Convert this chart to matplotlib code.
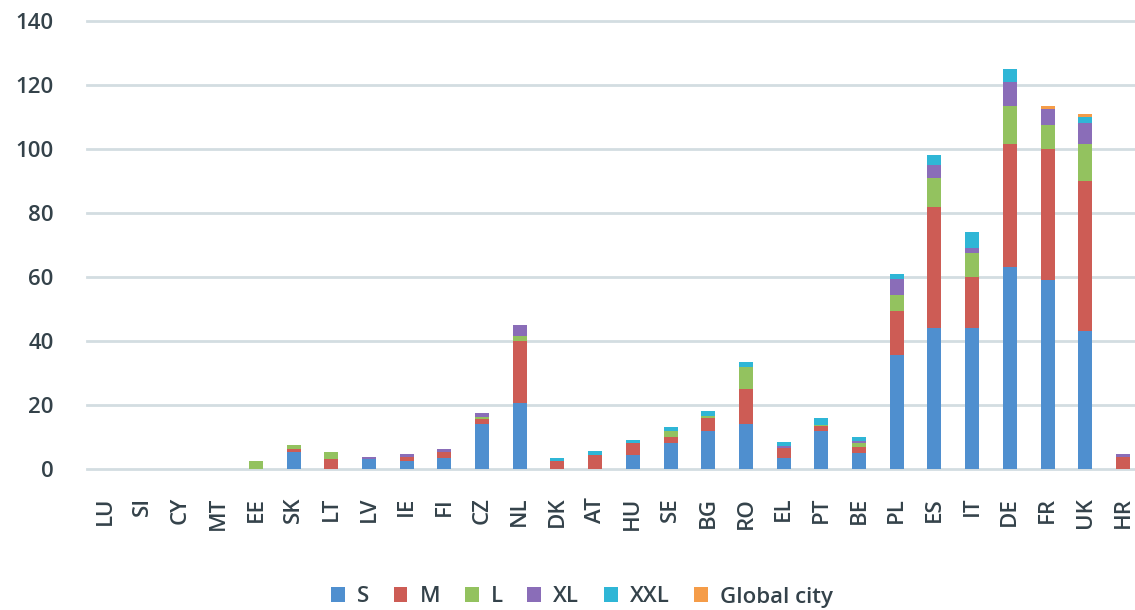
import matplotlib
matplotlib.use("Agg")
import matplotlib.pyplot as plt
import numpy as np

countries = ["LU", "SI", "CY", "MT", "EE", "SK", "LT", "LV", "IE", "FI", "CZ", "NL",
             "DK", "AT", "HU", "SE", "BG", "RO", "EL", "PT", "BE", "PL", "ES", "IT",
             "DE", "FR", "UK", "HR"]

s_vals   = [0, 0, 0, 0, 0,   5.2, 0,   3.0, 2.6, 3.4, 14.0, 20.5,
            0,   0,   4.5, 8.0, 12.0, 14.0, 3.3, 12.0, 5.0, 35.5, 44.0, 44.0,
            63.0, 59.0, 43.0, 0]
m_vals   = [0, 0, 0, 0, 0,   1.2, 3.2, 0,   1.0, 1.8, 1.7, 19.5,
            2.5, 4.5, 3.5, 2.0, 4.0, 11.0, 3.3, 1.3, 2.0, 14.0, 38.0, 16.0,
            38.5, 41.0, 47.0, 3.6]
l_vals   = [0, 0, 0, 0, 2.6, 1.0, 2.2, 0,   0,   0,   0.6, 1.5,
            0,   0,   0,   2.0, 0.5, 7.0, 0,   0.5, 1.0, 5.0, 9.0, 7.5,
            12.0, 7.5, 11.5, 0]
xl_vals  = [0, 0, 0, 0, 0,   0,   0,   0.6, 1.0, 1.2, 1.2, 3.5,
            0,   0,   0,   0,   0,   0,   0.5, 0,   0.7, 5.0, 4.0, 1.5,
            7.5, 5.0, 6.5, 1.0]
xxl_vals = [0, 0, 0, 0, 0,   0,   0,   0,   0,   0,   0,   0,
            1.0, 1.0, 1.0, 1.0, 1.5, 1.5, 1.2, 2.0, 1.3, 1.5, 3.0, 5.0,
            4.0, 0,   2.0, 0]
gc_vals  = [0, 0, 0, 0, 0,   0,   0,   0,   0,   0,   0,   0,
            0,   0,   0,   0,   0,   0,   0,   0,   0,   0,   0,   0,
            0,   1.0, 1.0, 0]

series_names = ["S", "M", "L", "XL", "XXL", "Global city"]
series_vals = [s_vals, m_vals, l_vals, xl_vals, xxl_vals, gc_vals]
colors = ["#4f8fcf", "#cd5c55", "#93c25f", "#8a6db8", "#2fb6d6", "#f59c48"]

plt.rcParams["font.family"] = ["Open Sans", "DejaVu Sans"]
plt.rcParams["font.weight"] = "semibold"
text_color = "#34424a"

fig = plt.figure(figsize=(11.35, 6.10), dpi=100)
ax = fig.add_axes([87 / 1135, 1 - 469 / 610, 1048 / 1135, 448 / 610])

x = np.arange(len(countries))
bottom = np.zeros(len(countries))
for name, vals, col in zip(series_names, series_vals, colors):
    v = np.array(vals, dtype=float)
    ax.bar(x, v, width=0.37, bottom=bottom, color=col, label=name, zorder=3)
    bottom += v

ax.set_xlim(-0.48, 27.32)
ax.set_ylim(0, 140)
ax.set_yticks(np.arange(0, 141, 20))
ax.yaxis.grid(True, color="#d3dde1", linewidth=2.0, zorder=0)
for gl in ax.get_ygridlines():
    gl.set_clip_on(False)
ax.set_axisbelow(True)

for sp in ax.spines.values():
    sp.set_visible(False)

ax.tick_params(axis="y", length=0, pad=24, labelsize=16, labelcolor=text_color)
ax.tick_params(axis="x", length=0, pad=20, labelsize=16, labelcolor=text_color)
ax.set_xticks(x)
ax.set_xticklabels(countries, rotation=90)

handles, labels = ax.get_legend_handles_labels()
fig.legend(handles, labels, loc="center", bbox_to_anchor=(582 / 1135, 1 - 597 / 610),
           ncol=6, frameon=False, fontsize=16, handlelength=0.62, handleheight=0.62,
           handletextpad=0.55, columnspacing=1.1, labelcolor=text_color)

fig.savefig("out.png", dpi=100, facecolor="white")
